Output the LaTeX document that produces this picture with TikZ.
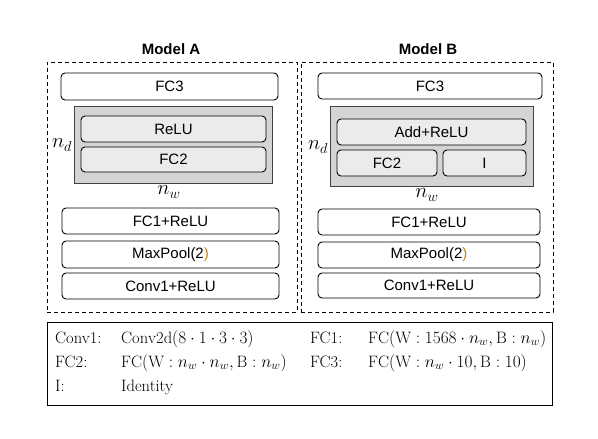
\documentclass[tikz,border=0pt]{standalone}
\usepackage{fontspec}
\newfontfamily\sfb{Liberation Sans}
\definecolor{paren}{RGB}{196,134,22}
\definecolor{grpfill}{RGB}{212,212,212}
\definecolor{infill}{RGB}{235,235,235}
\tikzset{
  lay/.style={draw=black, line width=0.9pt, rounded corners=4pt, fill=white, inner sep=0pt,
    font=\sfb\fontsize{15}{17}\selectfont},
  inlay/.style={lay, fill=infill},
  grp/.style={draw=black!75, line width=1pt, fill=grpfill, inner sep=0pt},
  dashbox/.style={draw=black, line width=0.8pt, dash pattern=on 4pt off 3pt, inner sep=0pt},
  ttl/.style={font=\sfb\bfseries\fontsize{15}{17}\selectfont},
  dim/.style={font=\fontsize{20}{22}\selectfont, inner sep=0pt},
  leg/.style={anchor=west, inner sep=0pt, text height=12pt, text depth=4pt, font=\fontsize{16.5}{19}\selectfont}
}
\begin{document}
\begin{tikzpicture}[x=1pt,y=-1pt]
\useasboundingbox (0,0) rectangle (598,439);
% ---------- Model A ----------
\node[ttl] (tA) at (171,49) {Model A};
\node[dashbox, minimum width=250pt, minimum height=250pt] (dA) at (172,187) {};
\node[lay, minimum width=217pt, minimum height=27pt] (a3) at (169.5,86.5) {FC3};
\node[grp, minimum width=198pt, minimum height=77pt] (gA) at (173,144.5) {};
\node[inlay, minimum width=185pt, minimum height=26pt] (aR) at (173.5,129) {ReLU};
\node[inlay, minimum width=185pt, minimum height=25pt] (a2) at (173.5,159.5) {FC2};
\node[dim] (ndA) at (62,145) {$n_d$};
\node[dim] (nwA) at (169,192) {$n_w$};
\node[lay, minimum width=217pt, minimum height=26pt] (a1) at (170.5,221) {FC1+ReLU};
\node[lay, minimum width=217pt, minimum height=27pt] (aM) at (170.5,254.5) {MaxPool(2\textcolor{paren}{)}};
\node[lay, minimum width=217pt, minimum height=26pt] (aC) at (170.5,286) {Conv1+ReLU};
% ---------- Model B ----------
\node[ttl] (tB) at (428,49) {Model B};
\node[dashbox, minimum width=252pt, minimum height=250pt] (dB) at (427,187) {};
\node[lay, minimum width=224pt, minimum height=26pt] (b3) at (430,86) {FC3};
\node[grp, minimum width=203pt, minimum height=80pt] (gB) at (431.5,146) {};
\node[inlay, minimum width=189pt, minimum height=26pt] (bA) at (431.5,132) {Add+ReLU};
\node[inlay, minimum width=100pt, minimum height=26pt] (b2) at (387,163) {FC2};
\node[inlay, minimum width=83pt, minimum height=26pt] (bI) at (484.5,163) {I};
\node[dim] (ndB) at (318,147) {$n_d$};
\node[dim] (nwB) at (427,195) {$n_w$};
\node[lay, minimum width=222pt, minimum height=26pt] (b1) at (429,222) {FC1+ReLU};
\node[lay, minimum width=222pt, minimum height=26pt] (bM) at (429,255) {MaxPool(2\textcolor{paren}{)}};
\node[lay, minimum width=222pt, minimum height=25pt] (bC) at (429,285.5) {Conv1+ReLU};
% ---------- Legend ----------
\node[draw=black, line width=1pt, inner sep=0pt, minimum width=505pt, minimum height=83pt] (lg) at (299.5,363.5) {};
\node[leg] (l1) at (55,339) {Conv1:};
\node[leg] (v1) at (121,339) {$\mathrm{Conv2d}(8\cdot 1\cdot 3\cdot 3)$};
\node[leg] (l2) at (310,339) {FC1:};
\node[leg] (v2) at (368,339) {$\mathrm{FC}(\mathrm{W}:1568\cdot n_w,\mathrm{B}:n_w)$};
\node[leg] (l3) at (55,363) {FC2:};
\node[leg] (v3) at (121,363) {$\mathrm{FC}(\mathrm{W}:n_w\cdot n_w,\mathrm{B}:n_w)$};
\node[leg] (l4) at (310,363) {FC3:};
\node[leg] (v4) at (368,363) {$\mathrm{FC}(\mathrm{W}:n_w\cdot 10,\mathrm{B}:10)$};
\node[leg] (l5) at (55,387) {I:};
\node[leg] (v5) at (121,387) {Identity};
\end{tikzpicture}
\end{document}
